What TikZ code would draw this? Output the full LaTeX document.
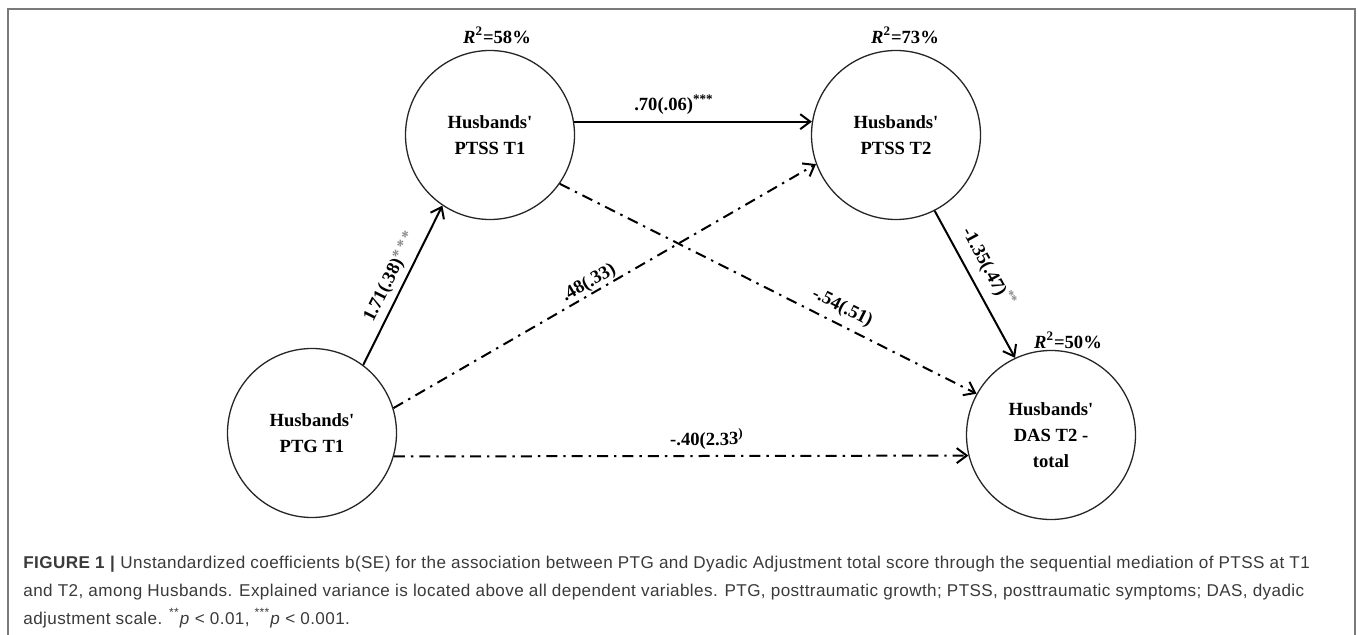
\documentclass[tikz,border=0pt]{standalone}
\usepackage{fontspec}
\setmainfont{Liberation Serif}
\newfontfamily\capfont{Liberation Sans}[LetterSpace=2.3]
\usetikzlibrary{arrows.meta}
\definecolor{framegray}{HTML}{7A7A7A}
\definecolor{capgray}{HTML}{3A3A3A}
\definecolor{stargray}{HTML}{8A8A8A}
\tikzset{
  var/.style={circle, draw=black!85, line width=0.65pt, minimum size=84.5pt, inner sep=0pt,
    align=center, font=\fontsize{9.3}{13}\selectfont\bfseries},
  rlab/.style={font=\fontsize{9.3}{11}\selectfont\bfseries, inner sep=0pt},
  elab/.style={font=\fontsize{9.3}{11}\selectfont\bfseries, sloped, above},
  solidarrow/.style={line width=1pt, -{Straight Barb[length=5pt,width=7.5pt,line width=1pt]}},
  dasharrow/.style={line width=1pt, dash pattern=on 5.5pt off 3pt on 1.2pt off 3pt,
    -{Straight Barb[length=5pt,width=7.5pt,line width=1pt]}},
}
\begin{document}
\begin{tikzpicture}[x=0.5pt,y=-0.5pt]
\useasboundingbox (0,0) rectangle (1358,635);
% frame
\draw[framegray, line width=1pt] (8,640) -- (8,9) -- (1355,9) -- (1355,640);
% variables
\node[var] (ptg) at (312,433) {Husbands\textquotesingle\\PTG T1};
\node[var] (p1)  at (490,135) {Husbands\textquotesingle\\PTSS T1};
\node[var] (p2)  at (896,135) {Husbands\textquotesingle\\PTSS T2};
\node[var] (das) at (1051,435) {Husbands\textquotesingle\\DAS T2 -\\total};
% explained variance
\node[rlab] (r1) at (497,35) {\textit{R}\textsuperscript{2}=58\%};
\node[rlab] (r2) at (905,35) {\textit{R}\textsuperscript{2}=73\%};
\node[rlab] (r3) at (1068,340) {\textit{R}\textsuperscript{2}=50\%};
% paths
\draw[solidarrow] (ptg.53) -- node[elab, pos=0.51, inner sep=2.5pt] {1.71(.38)\raisebox{0.35ex}{\textcolor{stargray}{\fontsize{8}{8}\selectfont *\,*\,*}}} (p1.236);
\draw[dasharrow] (ptg.17) -- node[elab, pos=0.475, inner sep=0.5pt] {.48(.33)} (p2.200);
\draw[dasharrow] (ptg.-16) -- node[elab, pos=0.545, inner sep=3pt] {-.40(2.33\textsuperscript{)}} (das.194.7);
\draw[dasharrow] (p1.-35) -- node[elab, pos=0.66, inner sep=3.5pt] {-.54(.51)} (das.151);
\draw[solidarrow] (p1.9) -- node[elab, pos=0.42, inner sep=3pt] {.70(.06)\textsuperscript{***}} (p2.171);
\draw[solidarrow] (p2.-63) -- node[elab, pos=0.45, inner sep=4.5pt] {-1.35(.47)\textsuperscript{\textcolor{stargray}{**}}} (das.115);
% caption
\node[anchor=base west, inner sep=0pt, align=left, text=capgray,
  font=\capfont\fontsize{8.55}{14}\selectfont] (cap) at (23,624)
  {\textbf{FIGURE 1} \textbf{|} Unstandardized coefficients b(SE) for the association between PTG and Dyadic Adjustment total score through the sequential mediation of PTSS at T1\\
   and T2, among Husbands. Explained variance is located above all dependent variables. PTG, posttraumatic growth; PTSS, posttraumatic symptoms; DAS, dyadic\\
   adjustment scale. \textsuperscript{**}\textit{p} < 0.01, \textsuperscript{***}\textit{p} < 0.001.};
\end{tikzpicture}
\end{document}
